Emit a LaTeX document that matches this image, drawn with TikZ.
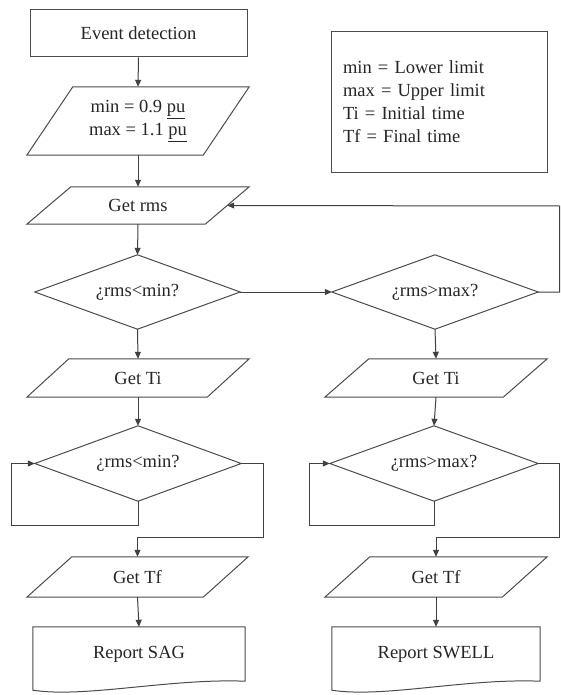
\documentclass[tikz,border=0pt]{standalone}
\usepackage{fontspec}
\setmainfont{Liberation Serif}
\usetikzlibrary{arrows.meta,calc}
\newcommand\drawpar[2]{\draw[shp] ($(#1.north west)+(#2,0)$) -- (#1.north east) -- ($(#1.south east)-(#2,0)$) -- (#1.south west) -- cycle;}
\newcommand\drawdia[1]{\draw[shp] (#1.north) -- (#1.east) -- (#1.south) -- (#1.west) -- cycle;}
\newcommand\drawdoc[1]{\draw[shp] (#1.south east) .. controls ($(#1.south east)+(-75,-3)$) and ($(#1.south west)+(52,17)$) .. ($(#1.south west)+(0,9)$) -- (#1.north west) -- (#1.north east) -- cycle;}
\begin{document}
\begin{tikzpicture}[x=1pt,y=-1pt,
  shp/.style={draw=black!70, line width=1pt},
  lnk/.style={draw=black!75, line width=1pt},
  arr/.style={lnk, -{Triangle[length=7pt,width=6pt]}},
  nd/.style={inner sep=0pt, font=\fontsize{18.5}{23}\selectfont, align=center, text=black!85}]
\fill[white] (0,0) rectangle (561,695);
\useasboundingbox (0,0) rectangle (561,695);

% left column
\node[nd, shp, minimum width=217, minimum height=47] (ev) at (138.5,33.5) {Event detection};
\node[nd, minimum width=222, minimum height=68] (pmm) at (138,121) {min = 0.9 \underline{pu}\\max = 1.1 \underline{pu}};
\drawpar{pmm}{46}
\node[nd, minimum width=222, minimum height=37] (rms) at (138,205.5) {Get rms};
\drawpar{rms}{44}
\node[nd, minimum width=205, minimum height=74] (d1) at (137.5,292) {¿rms<min?};
\drawdia{d1}
\node[nd, minimum width=222, minimum height=38] (ti1) at (138,378) {Get Ti};
\drawpar{ti1}{42}
\node[nd, minimum width=206, minimum height=75] (d2) at (138,463.5) {¿rms<min?};
\drawdia{d2}
\node[nd, minimum width=221, minimum height=40] (tf1) at (137.5,577) {Get Tf};
\drawpar{tf1}{45}
\node[nd, minimum width=212, minimum height=54] (rep1) at (139,654) {Report SAG};
\drawdoc{rep1}

% legend
\node[nd, shp, minimum width=216, minimum height=140, text width=192, inner xsep=12pt, align=left] (leg) at (439,102) {min = Lower limit\\max = Upper limit\\Ti = Initial time\\Tf = Final time};

% right column
\node[nd, minimum width=206, minimum height=74] (d3) at (435,292) {¿rms>max?};
\drawdia{d3}
\node[nd, minimum width=222, minimum height=38] (ti2) at (436,378) {Get Ti};
\drawpar{ti2}{44}
\node[nd, minimum width=208, minimum height=75] (d4) at (434,463.5) {¿rms>max?};
\drawdia{d4}
\node[nd, minimum width=222, minimum height=40] (tf2) at (436,577) {Get Tf};
\drawpar{tf2}{45}
\node[nd, minimum width=208, minimum height=54] (rep2) at (436,654) {Report SWELL};
\drawdoc{rep2}

% helper coordinates
\coordinate (loopL) at (11,525);
\coordinate (jL) at (263,537);
\coordinate (loopR) at (309,525);
\coordinate (jR) at (559.5,537);
\coordinate (rr) at (559.5,206);
\coordinate (rin) at ($(rms.east)+(-22,0)$);

% connectors
\draw[arr] (ev.south) -- (pmm.north);
\draw[arr] (pmm.south) -- (rms.north);
\draw[arr] (rms.south) -- (d1.north);
\draw[arr] (d1.east) -- (d3.west);
\draw[arr] (d1.south) -- (ti1.north);
\draw[arr] (ti1.south) -- (d2.north);
\draw[arr] (d2.south) |- (loopL) |- (d2.west);
\draw[arr] (d2.east) -| (jL) -| (tf1.north);
\draw[arr] (tf1.south) -- (rep1.north);

\draw[arr] (d3.east) -| (rr) -- (rin);
\draw[arr] (d3.south) -- (ti2.north);
\draw[arr] (ti2.south) -- (d4.north);
\draw[arr] (d4.south) |- (loopR) |- (d4.west);
\draw[arr] (d4.east) -| (jR) -| (tf2.north);
\draw[arr] (tf2.south) -- (rep2.north);
\end{tikzpicture}
\end{document}
